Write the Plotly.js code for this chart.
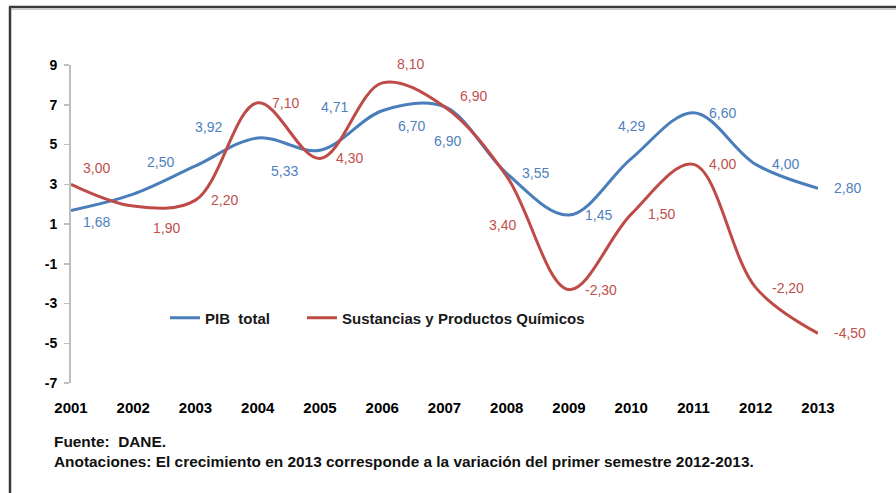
<!DOCTYPE html>
<html>
<head>
<meta charset="utf-8">
<script src="https://cdn.plot.ly/plotly-3.0.1.min.js"></script>
<style>html,body{margin:0;padding:0;background:#fff;}#chart{width:896px;height:493px;}</style>
</head>
<body>
<div id="chart"></div>
<script>
// ---- data ----
const years = [2001, 2002, 2003, 2004, 2005, 2006, 2007, 2008, 2009, 2010, 2011, 2012, 2013];
const pibTotal = [1.68, 2.50, 3.92, 5.33, 4.71, 6.70, 6.90, 3.55, 1.45, 4.29, 6.60, 4.00, 2.80];
const quimicos = [3.00, 1.90, 2.20, 7.10, 4.30, 8.10, 6.90, 3.40, -2.30, 1.50, 4.00, -2.20, -4.50];
const seriesNames = ["PIB\u00a0 total", "Sustancias y Productos Químicos"];
const yTickVals = [-7, -5, -3, -1, 1, 3, 5, 7, 9];
const yTickText = ["-7", "-5", "-3", "-1", "1", "3", "5", "7", "9"];
const xTickText = ["2001", "2002", "2003", "2004", "2005", "2006", "2007", "2008", "2009", "2010", "2011", "2012", "2013"];
const sourceText = "Fuente:  DANE.";
const noteText = "Anotaciones: El crecimiento en 2013 corresponde a la variación del primer semestre 2012-2013.";

// ---- label placement (pixel offsets of each data label from its point) ----
const pibLabelShift = [[25,12],[27,-32],[13,-39],[27,33],[14,-43],[29,15],[3,34],[29,0],[29,0],[0,-33],[29,0],[30,0],[29,0]];
const quiLabelShift = [[25,-16],[33,22],[29,0],[28,0],[29,0],[28,-19],[29,-11],[-4,49],[32,0],[30,0],[29,0],[32,0],[32,0]];

const W = 896, H = 493;
const M = {l: 71, r: 78, t: 65, b: 110};
const pw = W - M.l - M.r, ph = H - M.t - M.b;
const px = x => (x - M.l) / pw;
const py = y => (H - M.b - y) / ph;

const FONT = "Liberation Sans, Arial, sans-serif";
const blue = "#4A7EBB", red = "#BE4B48";
const blueLbl = "#4F81BD", redLbl = "#C0504D";

const fmt = v => v.toFixed(2).replace(".", ",");

const annotations = [];
function addLabels(vals, shifts, color) {
  vals.forEach((v, i) => {
    annotations.push({
      x: years[i], y: v, xref: "x", yref: "y", text: fmt(v), showarrow: false,
      xanchor: "center", yanchor: "middle",
      xshift: shifts[i][0], yshift: -shifts[i][1],
      font: {family: FONT, size: 14, color: color}
    });
  });
}
addLabels(pibTotal, pibLabelShift, blueLbl);
addLabels(quimicos, quiLabelShift, redLbl);

const footFont = {family: FONT, size: 15.4, color: "#111", weight: "bold"};
annotations.push({xref: "paper", yref: "paper", x: px(52), y: py(441), xanchor: "left", yanchor: "middle",
  text: sourceText, showarrow: false, font: footFont});
annotations.push({xref: "paper", yref: "paper", x: px(52), y: py(461), xanchor: "left", yanchor: "middle",
  text: noteText, showarrow: false, font: footFont});

const traces = [
  {x: years, y: pibTotal, name: seriesNames[0], type: "scatter", mode: "lines", legend: "legend",
   line: {color: blue, width: 3, shape: "spline", smoothing: 1}},
  {x: years, y: quimicos, name: seriesNames[1], type: "scatter", mode: "lines", legend: "legend2",
   line: {color: red, width: 3, shape: "spline", smoothing: 1}}
];

const legFont = {family: FONT, size: 15, color: "#1a1a1a", weight: "bold"};
const layout = {
  width: W, height: H,
  margin: M,
  paper_bgcolor: "#fff", plot_bgcolor: "#fff",
  showlegend: true,
  legend: {orientation: "h", x: px(165), y: py(318), xanchor: "left", yanchor: "middle",
    font: legFont, bgcolor: "rgba(0,0,0,0)", itemwidth: 30},
  legend2: {orientation: "h", x: px(302), y: py(318), xanchor: "left", yanchor: "middle",
    font: legFont, bgcolor: "rgba(0,0,0,0)", itemwidth: 30},
  xaxis: {range: [2001, 2013], tickvals: years, ticktext: xTickText, showline: false, ticks: "",
    showgrid: false, zeroline: false, ticklabelstandoff: 14,
    tickfont: {family: FONT, size: 15, color: "#000", weight: "bold"}},
  xaxis2: {range: [2001, 2013], overlaying: "x", anchor: "free", position: 7 / 16, side: "bottom",
    tickvals: years, showticklabels: false, showline: true, linecolor: "#BFBFBF", linewidth: 2,
    ticks: "outside", ticklen: 4, tickcolor: "#BFBFBF", tickwidth: 1.5, showgrid: false, zeroline: false},
  yaxis: {range: [-7, 9], tickvals: yTickVals, ticktext: yTickText, showline: true, linecolor: "#BFBFBF",
    linewidth: 2, ticks: "outside", ticklen: 5, tickcolor: "#BFBFBF", tickwidth: 1.5,
    showgrid: false, zeroline: false, ticklabelstandoff: 4,
    tickfont: {family: FONT, size: 14, color: "#000", weight: "bold"}},
  annotations: annotations,
  shapes: [
    {type: "line", xref: "paper", yref: "paper", x0: px(10), x1: px(10), y0: py(7), y1: py(500),
     line: {color: "#3a3a3a", width: 2.5}},
    {type: "line", xref: "paper", yref: "paper", x0: px(9), x1: px(900), y0: py(7), y1: py(7),
     line: {color: "#3a3a3a", width: 2.5}},
    {type: "line", xref: "paper", yref: "paper", x0: px(12), x1: px(900), y0: py(9.5), y1: py(9.5),
     line: {color: "#c8c8c8", width: 1}}
  ]
};

Plotly.newPlot("chart", traces, layout, {displayModeBar: false, staticPlot: true});
</script>
</body>
</html>
